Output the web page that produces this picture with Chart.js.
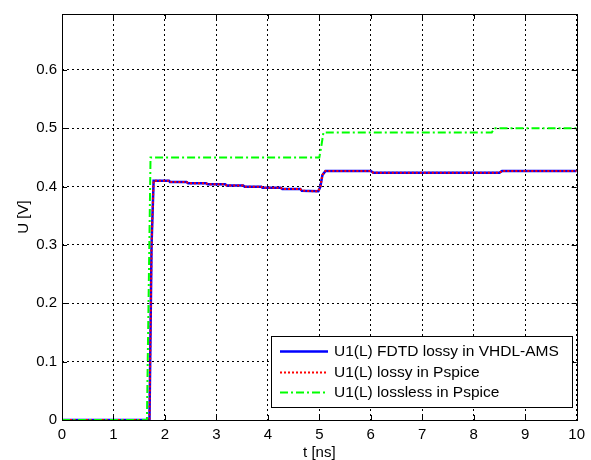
<!DOCTYPE html>
<html>
<head>
<meta charset="utf-8">
<script src="https://cdn.jsdelivr.net/npm/chart.js@4.4.0/dist/chart.umd.min.js"></script>
<style>
html,body{margin:0;padding:0;background:#fff;}
#wrap{width:591px;height:460px;}
</style>
</head>
<body>
<div id="wrap"><canvas id="chart" width="591" height="460"></canvas></div>
<script>
// time axis [ns] and voltages [V]
const tFdtd=[0,1.7,1.74,1.78,2.08,2.1,2.42,2.45,2.8,2.83,3.17,3.2,3.52,3.55,3.87,3.9,4.25,4.28,4.63,4.66,4.98,5.02,5.06,5.12,6.0,6.05,8.5,8.55,10];
const uFdtd=[0,0,0.30,0.41,0.41,0.408,0.408,0.406,0.406,0.404,0.404,0.402,0.402,0.400,0.400,0.398,0.398,0.396,0.396,0.393,0.392,0.40,0.42,0.427,0.427,0.424,0.424,0.427,0.427];

const tLossy=[0,1.7,1.74,1.78,2.08,2.1,2.42,2.45,2.8,2.83,3.17,3.2,3.52,3.55,3.87,3.9,4.25,4.28,4.63,4.66,4.98,5.02,5.06,5.12,6.0,6.05,8.5,8.55,10];
const uLossy=[0,0,0.30,0.41,0.41,0.408,0.408,0.406,0.406,0.404,0.404,0.402,0.402,0.400,0.400,0.398,0.398,0.396,0.396,0.393,0.392,0.40,0.42,0.427,0.427,0.424,0.424,0.427,0.427];

const tLossless=[0,1.65,1.72,5.0,5.04,5.08,8.35,8.4,10];
const uLossless=[0,0,0.45,0.45,0.47,0.493,0.493,0.5,0.5];

const xTicks=[0,1,2,3,4,5,6,7,8,9,10];
const yTicks=[0,0.1,0.2,0.3,0.4,0.5,0.6];

const seriesNames=['U1(L) FDTD lossy in VHDL-AMS','U1(L) lossy in Pspice','U1(L) lossless in Pspice'];

const FONT='"Liberation Sans", Arial, sans-serif';
const pts=(xs,ys)=>xs.map((x,i)=>({x:x,y:ys[i]}));

// box, inward ticks and legend drawn on top of the plot
const framePlugin={
  id:'frame',
  afterDatasetsDraw(chart){
    const {ctx,chartArea:a,scales}=chart;
    ctx.save();
    ctx.strokeStyle='#000';
    ctx.lineWidth=1;
    ctx.beginPath();
    xTicks.forEach(v=>{
      const px=Math.round(scales.x.getPixelForValue(v))+0.5;
      ctx.moveTo(px,a.bottom);ctx.lineTo(px,a.bottom-5);
      ctx.moveTo(px,a.top);ctx.lineTo(px,a.top+5);
    });
    yTicks.forEach(v=>{
      const py=Math.round(scales.y.getPixelForValue(v))+0.5;
      ctx.moveTo(a.left,py);ctx.lineTo(a.left+5,py);
      ctx.moveTo(a.right,py);ctx.lineTo(a.right-5,py);
    });
    ctx.stroke();
    ctx.strokeRect(Math.round(a.left)+0.5,Math.round(a.top)+0.5,Math.round(a.right-a.left),Math.round(a.bottom-a.top));

    // legend box
    const lx=271,ly=336,lw=301,lh=71;
    ctx.fillStyle='#fff';
    ctx.fillRect(lx,ly,lw,lh);
    ctx.strokeRect(lx+0.5,ly+0.5,lw,lh);
    ctx.font='15.5px '+FONT;
    ctx.textBaseline='middle';
    ctx.fillStyle='#000';
    const rows=[351,372,392];
    chart.data.datasets.forEach((ds,i)=>{
      const y=rows[i]+0.5;
      ctx.beginPath();
      ctx.strokeStyle=ds.borderColor;
      ctx.lineWidth=ds.borderWidth;
      ctx.setLineDash(ds.borderDash||[]);
      ctx.moveTo(280,y);ctx.lineTo(328,y);
      ctx.stroke();
      ctx.setLineDash([]);
      ctx.fillText(seriesNames[i],334,rows[i]+1);
    });
    ctx.restore();
  }
};

new Chart(document.getElementById('chart').getContext('2d'),{
  type:'line',
  data:{datasets:[
    {label:seriesNames[0],data:pts(tFdtd,uFdtd),borderColor:'#0000ff',borderWidth:2.5,pointRadius:0,tension:0,order:2},
    {label:seriesNames[1],data:pts(tLossy,uLossy),borderColor:'#ff0000',borderWidth:2,borderDash:[2,2],pointRadius:0,tension:0,order:1},
    {label:seriesNames[2],data:pts(tLossless,uLossless),borderColor:'#00ff00',borderWidth:2,borderDash:[8,3,2,3],pointRadius:0,tension:0,order:0}
  ]},
  options:{
    responsive:false,
    animation:false,
    layout:{padding:{left:0,top:10,right:9,bottom:0}},
    plugins:{legend:{display:false},tooltip:{enabled:false}},
    scales:{
      x:{
        type:'linear',min:0,max:10,
        afterBuildTicks(s){s.ticks=xTicks.map(v=>({value:v}));},
        afterFit(s){s.height=40;},
        grid:{color:'#000',lineWidth:1,drawTicks:false},
        border:{display:false,dash:[2,3]},
        ticks:{padding:6,color:'#000',font:{family:FONT,size:15}},
        title:{display:true,text:'t [ns]',color:'#000',padding:{top:0,bottom:0},font:{family:FONT,size:15,lineHeight:1}}
      },
      y:{
        type:'linear',min:0,max:0.696,
        afterBuildTicks(s){s.ticks=yTicks.map(v=>({value:v}));},
        afterFit(s){s.width=62;},
        grid:{color:'#000',lineWidth:1,drawTicks:false},
        border:{display:false,dash:[2,3]},
        ticks:{padding:5,color:'#000',font:{family:FONT,size:15}},
        title:{display:true,text:'U [V]',color:'#000',padding:{top:16,bottom:0},font:{family:FONT,size:15,lineHeight:1}}
      }
    }
  },
  plugins:[framePlugin]
});
</script>
</body>
</html>
